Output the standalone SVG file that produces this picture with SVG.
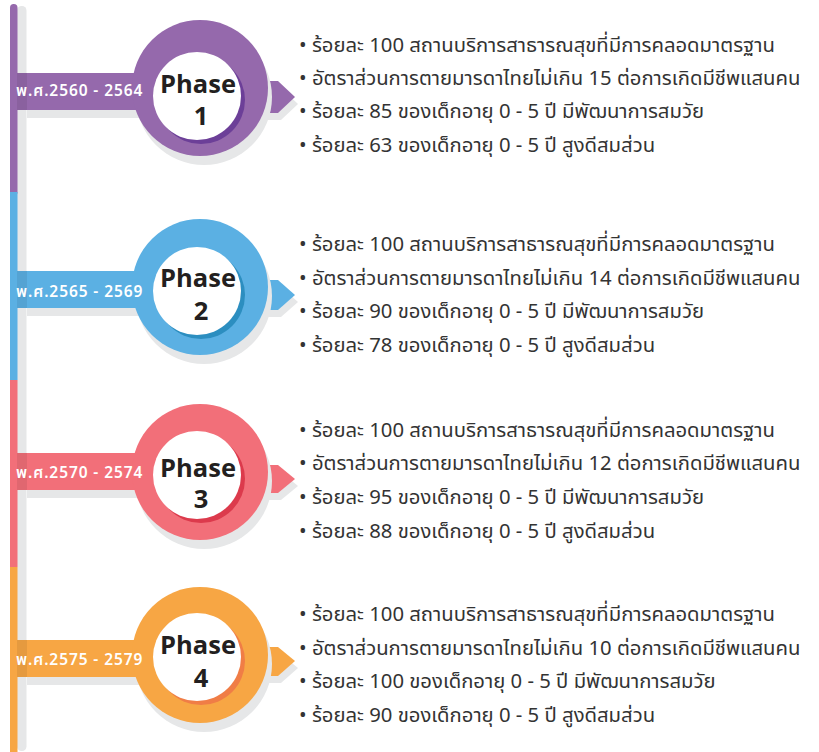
<svg xmlns="http://www.w3.org/2000/svg" width="819" height="752" viewBox="0 0 819 752">
<style>
.sh{fill:#E6E7E8}
.ph{font-family:"Open Sans","Noto Sans",sans-serif;font-weight:700;font-size:25.5px;fill:#231F20;text-anchor:middle}
.dt{font-family:"Noto Sans Thai","Noto Sans","DejaVu Sans",sans-serif;font-weight:600;font-size:15.5px;letter-spacing:0.9px;fill:#FFFFFF}
.tx{font-family:"Noto Sans Thai","Noto Sans","DejaVu Sans",sans-serif;font-size:20.3px;fill:#333333}
.tint{fill:#000000;opacity:0.07}
</style>
<rect width="819" height="752" fill="#FFFFFF"/>
<g id="connectors">
<rect class="sh" x="17" y="6" width="9.5" height="745" rx="4.5"/>
<rect x="10" y="4" width="7.5" height="192" rx="3.7" fill="#9569AC"/>
<rect x="10" y="192" width="7.5" height="188" fill="#5BB0E3"/>
<rect x="10" y="380" width="7.5" height="187" fill="#F26F79"/>
<rect x="10" y="567" width="7.5" height="185" fill="#F7A644"/>
</g>

<g id="phase1">
<rect class="sh" x="27" y="81" width="130" height="37"/>
<rect x="17" y="73" width="140" height="37" fill="#9569AC"/>
<rect class="tint" x="17" y="73" width="10" height="37"/>
<path class="sh" d="M253,88 L281,88 L298,104 L281,120 L253,120 Z"/>
<path d="M250,81 L278,81 L295,97 L278,113 L250,113 Z" fill="#9569AC"/>
<circle class="sh" cx="204" cy="97" r="68"/>
<circle cx="200" cy="88" r="68" fill="#9569AC"/>
<circle cx="201" cy="100" r="44" fill="#6C3F98"/>
<circle cx="197" cy="96" r="44" fill="#FFFFFF"/>
<text class="ph" x="198" y="93">Phase</text>
<text class="ph" x="201" y="125">1</text>
<text class="dt" x="16" y="96">พ.ศ.2560 - 2564</text>
<text class="tx" x="299" y="52">• ร้อยละ 100 สถานบริการสาธารณสุขที่มีการคลอดมาตรฐาน</text>
<text class="tx" x="299" y="85">• อัตราส่วนการตายมารดาไทยไม่เกิน 15 ต่อการเกิดมีชีพแสนคน</text>
<text class="tx" x="299" y="118">• ร้อยละ 85 ของเด็กอายุ 0 - 5 ปี มีพัฒนาการสมวัย</text>
<text class="tx" x="299" y="152">• ร้อยละ 63 ของเด็กอายุ 0 - 5 ปี สูงดีสมส่วน</text>
</g>

<g id="phase2">
<rect class="sh" x="27" y="279" width="130" height="37"/>
<rect x="17" y="271" width="140" height="37" fill="#5BB0E3"/>
<rect class="tint" x="17" y="271" width="10" height="37"/>
<path class="sh" d="M253,287 L281,287 L298,302 L281,317 L253,317 Z"/>
<path d="M250,280 L278,280 L295,295 L278,310 L250,310 Z" fill="#5BB0E3"/>
<circle class="sh" cx="204" cy="296" r="68"/>
<circle cx="200" cy="287" r="68" fill="#5BB0E3"/>
<circle cx="201" cy="295" r="44" fill="#2C8EC0"/>
<circle cx="197" cy="291" r="44" fill="#FFFFFF"/>
<text class="ph" x="198" y="287">Phase</text>
<text class="ph" x="201" y="320">2</text>
<text class="dt" x="16" y="297">พ.ศ.2565 - 2569</text>
<text class="tx" x="299" y="251">• ร้อยละ 100 สถานบริการสาธารณสุขที่มีการคลอดมาตรฐาน</text>
<text class="tx" x="299" y="285">• อัตราส่วนการตายมารดาไทยไม่เกิน 14 ต่อการเกิดมีชีพแสนคน</text>
<text class="tx" x="299" y="318">• ร้อยละ 90 ของเด็กอายุ 0 - 5 ปี มีพัฒนาการสมวัย</text>
<text class="tx" x="299" y="352">• ร้อยละ 78 ของเด็กอายุ 0 - 5 ปี สูงดีสมส่วน</text>
</g>

<g id="phase3">
<rect class="sh" x="27" y="461" width="130" height="37"/>
<rect x="17" y="453" width="140" height="37" fill="#F26F79"/>
<rect class="tint" x="17" y="453" width="10" height="37"/>
<path class="sh" d="M253,472 L281,472 L298,486 L281,500 L253,500 Z"/>
<path d="M250,465 L278,465 L295,479 L278,493 L250,493 Z" fill="#F26F79"/>
<circle class="sh" cx="204" cy="481" r="68"/>
<circle cx="200" cy="472" r="68" fill="#F26F79"/>
<circle cx="201" cy="479" r="44" fill="#DC3A4C"/>
<circle cx="197" cy="475" r="44" fill="#FFFFFF"/>
<text class="ph" x="198" y="477">Phase</text>
<text class="ph" x="201" y="508">3</text>
<text class="dt" x="16" y="478">พ.ศ.2570 - 2574</text>
<text class="tx" x="299" y="437">• ร้อยละ 100 สถานบริการสาธารณสุขที่มีการคลอดมาตรฐาน</text>
<text class="tx" x="299" y="470">• อัตราส่วนการตายมารดาไทยไม่เกิน 12 ต่อการเกิดมีชีพแสนคน</text>
<text class="tx" x="299" y="504">• ร้อยละ 95 ของเด็กอายุ 0 - 5 ปี มีพัฒนาการสมวัย</text>
<text class="tx" x="299" y="538">• ร้อยละ 88 ของเด็กอายุ 0 - 5 ปี สูงดีสมส่วน</text>
</g>

<g id="phase4">
<rect class="sh" x="27" y="648" width="130" height="37"/>
<rect x="17" y="640" width="140" height="37" fill="#F7A644"/>
<rect class="tint" x="17" y="640" width="10" height="37"/>
<path class="sh" d="M253,654 L281,654 L298,668 L281,683 L253,683 Z"/>
<path d="M250,647 L278,647 L295,661 L278,676 L250,676 Z" fill="#F7A644"/>
<circle class="sh" cx="204" cy="664" r="68"/>
<circle cx="200" cy="655" r="68" fill="#F7A644"/>
<circle cx="201" cy="661" r="44" fill="#F07D46"/>
<circle cx="197" cy="657" r="44" fill="#FFFFFF"/>
<text class="ph" x="198" y="654">Phase</text>
<text class="ph" x="201" y="687">4</text>
<text class="dt" x="16" y="665">พ.ศ.2575 - 2579</text>
<text class="tx" x="299" y="621">• ร้อยละ 100 สถานบริการสาธารณสุขที่มีการคลอดมาตรฐาน</text>
<text class="tx" x="299" y="655">• อัตราส่วนการตายมารดาไทยไม่เกิน 10 ต่อการเกิดมีชีพแสนคน</text>
<text class="tx" x="299" y="688">• ร้อยละ 100 ของเด็กอายุ 0 - 5 ปี มีพัฒนาการสมวัย</text>
<text class="tx" x="299" y="722">• ร้อยละ 90 ของเด็กอายุ 0 - 5 ปี สูงดีสมส่วน</text>
</g>
</svg>
